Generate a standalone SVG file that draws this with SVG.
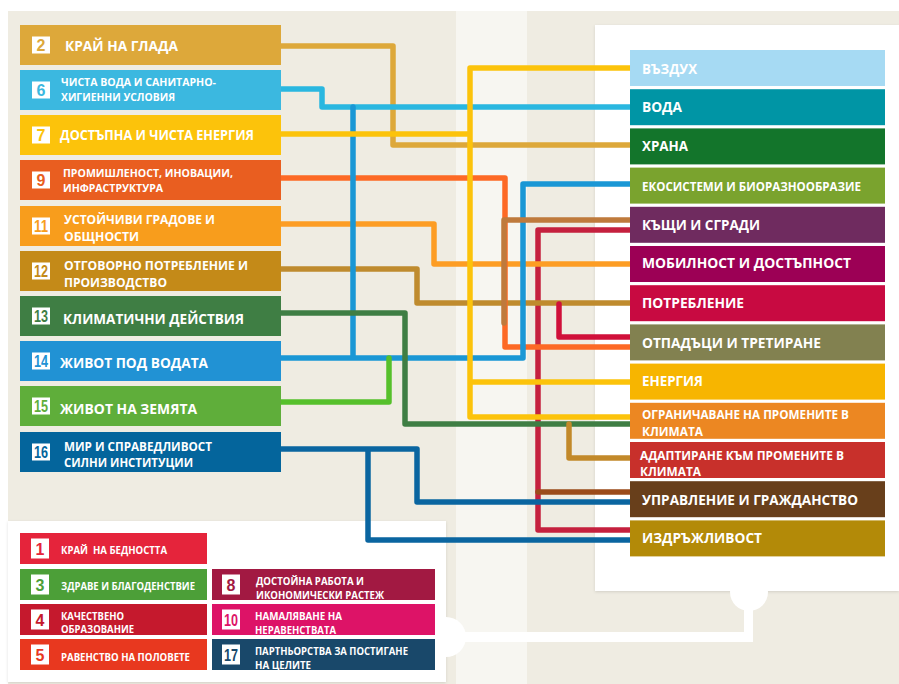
<svg xmlns="http://www.w3.org/2000/svg" width="899" height="684" viewBox="0 0 899 684">
<defs>
<style>
.t{font-family:"Open Sans","Liberation Sans",sans-serif;font-weight:700;fill:#fff}
.n{font-family:"Liberation Sans",Arial,sans-serif;font-weight:700;font-size:16px;text-anchor:middle}
.c{fill:none;stroke-width:5.5;stroke-linejoin:round;stroke-linecap:round}
.sq{fill:#fff}
</style>
<filter id="sh" x="-5%" y="-5%" width="110%" height="110%"><feDropShadow dx="0" dy="1" stdDeviation="1.5" flood-color="#000" flood-opacity="0.12"/></filter>
</defs>
<rect x="0" y="0" width="899" height="684" fill="#fff"/>
<rect x="8" y="11" width="891" height="673" fill="#efece2"/>
<rect x="456" y="11" width="71" height="673" fill="#f7f6f1"/>
<rect x="595" y="25" width="304" height="566" fill="#fff" filter="url(#sh)"/>
<rect x="8" y="521" width="438" height="161" fill="#fff" filter="url(#sh)"/>
<g id="legend-link" fill="#fff">
<circle cx="446" cy="637" r="20"/>
<rect x="446" y="632" width="307" height="10"/>
<rect x="744" y="592" width="9" height="50"/>
<circle cx="749" cy="592" r="19"/>
</g>

<g id="connectors">
<path class="c" stroke="#c5203e" d="M630,230 H538 V530 H630"/>
<path class="c" stroke="#dda83a" d="M281,46 H393 V145 H630"/>
<path class="c" stroke="#2ab7e0" d="M281,89 H322 V107 H630"/>
<path class="c" stroke="#bf8b2e" d="M281,269 H417 V303 H630"/>
<path class="c" stroke="#fd9d24" d="M281,224 H434 V264 H630"/>
<path class="c" stroke="#fd6925" d="M281,178 H505 V347 H630"/>
<path class="c" stroke="#1a97d5" d="M281,358 H523 V184 H630 M353,107 V358"/>
<path class="c" stroke="#bf7a3c" d="M630,220 H504 V323"/>
<path class="c" stroke="#3f7e44" d="M281,313 H405 V424 H630"/>
<path class="c" stroke="#56c02b" d="M281,402 H389 V358"/>
<path class="c" stroke="#0a65a0" d="M281,449 H417 V502 H630 M368,449 V540 H630"/>
<path class="c" stroke="#9b4b1a" d="M630,492 H538"/>
<path class="c" stroke="#d0103a" d="M630,337 H559 V304"/>
<path class="c" stroke="#c2892a" d="M569,424 V458 H630"/>
<path class="c" stroke="#fcc30b" d="M281,134 H470 M630,68 H470 V417 H630 M470,382 H630"/>
</g>

<g id="sdg2"><rect x="20" y="25" width="261" height="40" fill="#dda83a"/><rect class="sq" x="32" y="36.5" width="18" height="17"/><text class="n" x="41" y="51" fill="#dda83a">2</text><text class="t" x="65" y="51" font-size="14" textLength="113" lengthAdjust="spacingAndGlyphs">КРАЙ НА ГЛАДА</text></g>
<g id="sdg6"><rect x="20" y="70" width="261" height="40" fill="#3bb8e0"/><rect class="sq" x="32" y="81.5" width="18" height="17"/><text class="n" x="41" y="96" fill="#3bb8e0">6</text><text class="t" x="61" y="86" font-size="11" textLength="155" lengthAdjust="spacingAndGlyphs">ЧИСТА ВОДА И САНИТАРНО-</text><text class="t" x="61" y="101" font-size="11" textLength="114" lengthAdjust="spacingAndGlyphs">ХИГИЕННИ УСЛОВИЯ</text></g>
<g id="sdg7"><rect x="20" y="115" width="261" height="40" fill="#fcc30b"/><rect class="sq" x="32" y="126.5" width="18" height="17"/><text class="n" x="41" y="141" fill="#fcc30b">7</text><text class="t" x="60" y="140" font-size="13.5" textLength="194" lengthAdjust="spacingAndGlyphs">ДОСТЪПНА И ЧИСТА ЕНЕРГИЯ</text></g>
<g id="sdg9"><rect x="20" y="160" width="261" height="40" fill="#e95e20"/><rect class="sq" x="32" y="171.5" width="18" height="17"/><text class="n" x="41" y="186" fill="#e95e20">9</text><text class="t" x="63" y="177" font-size="11" textLength="170" lengthAdjust="spacingAndGlyphs">ПРОМИШЛЕНОСТ, ИНОВАЦИИ,</text><text class="t" x="63" y="192" font-size="11" textLength="100" lengthAdjust="spacingAndGlyphs">ИНФРАСТРУКТУРА</text></g>
<g id="sdg11"><rect x="20" y="206" width="261" height="40" fill="#f89d1c"/><rect class="sq" x="32" y="217.5" width="18" height="17"/><text class="n" x="41" y="232" fill="#f89d1c" textLength="14" lengthAdjust="spacingAndGlyphs">11</text><text class="t" x="64" y="224" font-size="12" textLength="151" lengthAdjust="spacingAndGlyphs">УСТОЙЧИВИ ГРАДОВЕ И</text><text class="t" x="64" y="241" font-size="12" textLength="75" lengthAdjust="spacingAndGlyphs">ОБЩНОСТИ</text></g>
<g id="sdg12"><rect x="20" y="251" width="261" height="40" fill="#c48a18"/><rect class="sq" x="32" y="262.5" width="18" height="17"/><text class="n" x="41" y="277" fill="#c48a18" textLength="14" lengthAdjust="spacingAndGlyphs">12</text><text class="t" x="64" y="270" font-size="12" textLength="184" lengthAdjust="spacingAndGlyphs">ОТГОВОРНО ПОТРЕБЛЕНИЕ И</text><text class="t" x="64" y="287" font-size="12" textLength="103" lengthAdjust="spacingAndGlyphs">ПРОИЗВОДСТВО</text></g>
<g id="sdg13"><rect x="20" y="296" width="261" height="40" fill="#3f7e44"/><rect class="sq" x="32" y="307.5" width="18" height="17"/><text class="n" x="41" y="322" fill="#3f7e44" textLength="14" lengthAdjust="spacingAndGlyphs">13</text><text class="t" x="63" y="324" font-size="14" textLength="181" lengthAdjust="spacingAndGlyphs">КЛИМАТИЧНИ ДЕЙСТВИЯ</text></g>
<g id="sdg14"><rect x="20" y="341" width="261" height="40" fill="#2192d4"/><rect class="sq" x="32" y="352.5" width="18" height="17"/><text class="n" x="41" y="367" fill="#2192d4" textLength="14" lengthAdjust="spacingAndGlyphs">14</text><text class="t" x="60" y="368" font-size="14" textLength="148" lengthAdjust="spacingAndGlyphs">ЖИВОТ ПОД ВОДАТА</text></g>
<g id="sdg15"><rect x="20" y="386" width="261" height="40" fill="#5fae3a"/><rect class="sq" x="32" y="397.5" width="18" height="17"/><text class="n" x="41" y="412" fill="#5fae3a" textLength="14" lengthAdjust="spacingAndGlyphs">15</text><text class="t" x="60" y="414" font-size="14" textLength="137" lengthAdjust="spacingAndGlyphs">ЖИВОТ НА ЗЕМЯТА</text></g>
<g id="sdg16"><rect x="20" y="432" width="261" height="40" fill="#04659c"/><rect class="sq" x="32" y="443.5" width="18" height="17"/><text class="n" x="41" y="458" fill="#04659c" textLength="14" lengthAdjust="spacingAndGlyphs">16</text><text class="t" x="64" y="451" font-size="12" textLength="148" lengthAdjust="spacingAndGlyphs">МИР И СПРАВЕДЛИВОСТ</text><text class="t" x="64" y="467" font-size="12" textLength="129" lengthAdjust="spacingAndGlyphs">СИЛНИ ИНСТИТУЦИИ</text></g>

<g id="air"><rect x="630" y="50" width="255" height="36" fill="#a6daf3"/><text class="t" x="642" y="74" font-size="14" textLength="55" lengthAdjust="spacingAndGlyphs">ВЪЗДУХ</text></g>
<g id="water"><rect x="630" y="89.2" width="255" height="36" fill="#0095a5"/><text class="t" x="642" y="112" font-size="14" textLength="40" lengthAdjust="spacingAndGlyphs">ВОДА</text></g>
<g id="food"><rect x="630" y="128.4" width="255" height="36" fill="#13752b"/><text class="t" x="642" y="151" font-size="14" textLength="46" lengthAdjust="spacingAndGlyphs">ХРАНА</text></g>
<g id="eco"><rect x="630" y="167.6" width="255" height="36" fill="#7aa32e"/><text class="t" x="642" y="191" font-size="11.5" textLength="219" lengthAdjust="spacingAndGlyphs">ЕКОСИСТЕМИ И БИОРАЗНООБРАЗИЕ</text></g>
<g id="houses"><rect x="630" y="206.8" width="255" height="36" fill="#6f2b5f"/><text class="t" x="642" y="230" font-size="15" textLength="118" lengthAdjust="spacingAndGlyphs">КЪЩИ И СГРАДИ</text></g>
<g id="mobility"><rect x="630" y="246" width="255" height="36" fill="#9c0055"/><text class="t" x="642" y="268" font-size="14.5" textLength="209" lengthAdjust="spacingAndGlyphs">МОБИЛНОСТ И ДОСТЪПНОСТ</text></g>
<g id="consumption"><rect x="630" y="285.2" width="255" height="36" fill="#c80a41"/><text class="t" x="642" y="308" font-size="14" textLength="102" lengthAdjust="spacingAndGlyphs">ПОТРЕБЛЕНИЕ</text></g>
<g id="waste"><rect x="630" y="324.4" width="255" height="36" fill="#828150"/><text class="t" x="642" y="348" font-size="14" textLength="179" lengthAdjust="spacingAndGlyphs">ОТПАДЪЦИ И ТРЕТИРАНЕ</text></g>
<g id="energy"><rect x="630" y="363.6" width="255" height="36" fill="#f7b500"/><text class="t" x="642" y="386" font-size="14" textLength="61" lengthAdjust="spacingAndGlyphs">ЕНЕРГИЯ</text></g>
<g id="mitigation"><rect x="630" y="402.8" width="255" height="36" fill="#ec8722"/><text class="t" x="642" y="419" font-size="12" textLength="207" lengthAdjust="spacingAndGlyphs">ОГРАНИЧАВАНЕ НА ПРОМЕНИТЕ В</text><text class="t" x="642" y="436" font-size="12" textLength="61" lengthAdjust="spacingAndGlyphs">КЛИМАТА</text></g>
<g id="adaptation"><rect x="630" y="442" width="255" height="36" fill="#c8302b"/><text class="t" x="640" y="460" font-size="12" textLength="204" lengthAdjust="spacingAndGlyphs">АДАПТИРАНЕ КЪМ ПРОМЕНИТЕ В</text><text class="t" x="640" y="476" font-size="12" textLength="61" lengthAdjust="spacingAndGlyphs">КЛИМАТА</text></g>
<g id="governance"><rect x="630" y="481.2" width="255" height="36" fill="#683f1b"/><text class="t" x="642" y="505" font-size="14.5" textLength="216" lengthAdjust="spacingAndGlyphs">УПРАВЛЕНИЕ И ГРАЖДАНСТВО</text></g>
<g id="resilience"><rect x="630" y="520.4" width="255" height="36" fill="#b38a08"/><text class="t" x="642" y="543" font-size="14" textLength="120" lengthAdjust="spacingAndGlyphs">ИЗДРЪЖЛИВОСТ</text></g>

<g id="sdg1"><rect x="20" y="533" width="187" height="31" fill="#e5243b"/><rect class="sq" x="31" y="538.5" width="18" height="20"/><text class="n" x="40" y="554.5" fill="#e5243b">1</text><text class="t" x="61" y="554" font-size="10" xml:space="preserve" textLength="106" lengthAdjust="spacingAndGlyphs">КРАЙ  НА БЕДНОСТТА</text></g>
<g id="sdg3"><rect x="20" y="569" width="187" height="31" fill="#4c9f38"/><rect class="sq" x="31" y="574.5" width="18" height="20"/><text class="n" x="40" y="590.5" fill="#4c9f38">3</text><text class="t" x="61" y="590" font-size="10" textLength="134" lengthAdjust="spacingAndGlyphs">ЗДРАВЕ И БЛАГОДЕНСТВИЕ</text></g>
<g id="sdg4"><rect x="20" y="604" width="187" height="31" fill="#c5192d"/><rect class="sq" x="31" y="609.5" width="18" height="20"/><text class="n" x="40" y="625.5" fill="#c5192d">4</text><text class="t" x="61" y="619.5" font-size="10" textLength="63" lengthAdjust="spacingAndGlyphs">КАЧЕСТВЕНО</text><text class="t" x="61" y="633" font-size="10" textLength="73" lengthAdjust="spacingAndGlyphs">ОБРАЗОВАНИЕ</text></g>
<g id="sdg5"><rect x="20" y="639" width="187" height="31" fill="#e8381f"/><rect class="sq" x="31" y="644.5" width="18" height="20"/><text class="n" x="40" y="660.5" fill="#e8381f">5</text><text class="t" x="61" y="661" font-size="10" textLength="129" lengthAdjust="spacingAndGlyphs">РАВЕНСТВО НА ПОЛОВЕТЕ</text></g>
<g id="sdg8"><rect x="212" y="569" width="223" height="31" fill="#a21942"/><rect class="sq" x="222" y="574.5" width="18" height="20"/><text class="n" x="231" y="590.5" fill="#a21942">8</text><text class="t" x="256" y="584.5" font-size="10" textLength="108" lengthAdjust="spacingAndGlyphs">ДОСТОЙНА РАБОТА И</text><text class="t" x="256" y="599" font-size="10" textLength="128" lengthAdjust="spacingAndGlyphs">ИКОНОМИЧЕСКИ РАСТЕЖ</text></g>
<g id="sdg10"><rect x="212" y="604" width="223" height="31" fill="#dd1367"/><rect class="sq" x="222" y="609.5" width="18" height="20"/><text class="n" x="231" y="625.5" fill="#dd1367" textLength="14" lengthAdjust="spacingAndGlyphs">10</text><text class="t" x="255" y="619.5" font-size="10" textLength="87" lengthAdjust="spacingAndGlyphs">НАМАЛЯВАНЕ НА</text><text class="t" x="255" y="634" font-size="10" textLength="81" lengthAdjust="spacingAndGlyphs">НЕРАВЕНСТВАТА</text></g>
<g id="sdg17"><rect x="212" y="639" width="223" height="31" fill="#19486a"/><rect class="sq" x="222" y="644.5" width="18" height="20"/><text class="n" x="231" y="660.5" fill="#19486a" textLength="14" lengthAdjust="spacingAndGlyphs">17</text><text class="t" x="255" y="654.5" font-size="10" textLength="153" lengthAdjust="spacingAndGlyphs">ПАРТНЬОРСТВА ЗА ПОСТИГАНЕ</text><text class="t" x="255" y="669" font-size="10" textLength="56" lengthAdjust="spacingAndGlyphs">НА ЦЕЛИТЕ</text></g>
</svg>
